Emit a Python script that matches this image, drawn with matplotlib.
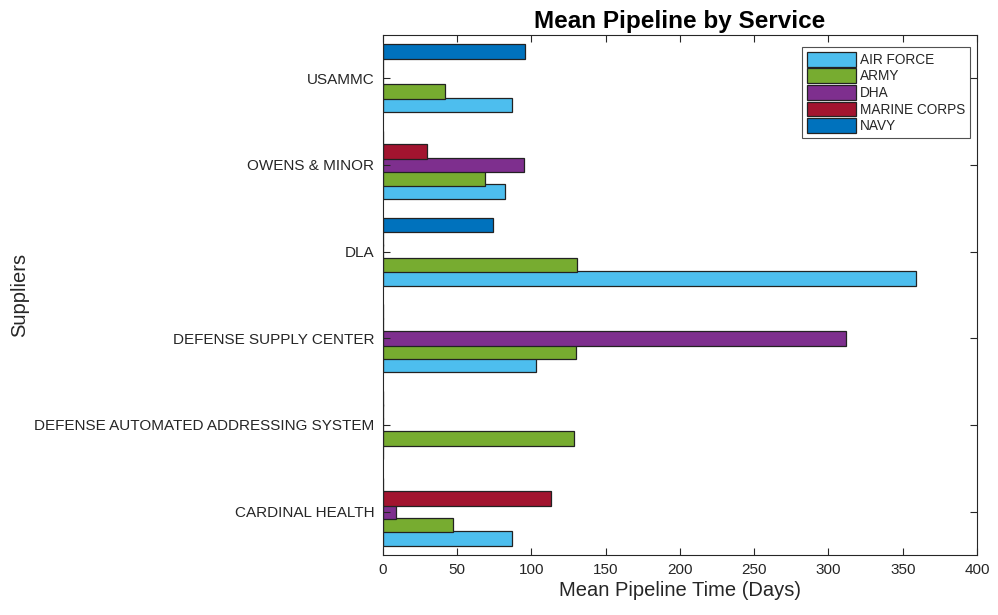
import matplotlib
matplotlib.use("Agg")
import matplotlib.pyplot as plt
import numpy as np

plt.rcParams['font.family'] = ['Liberation Sans', 'DejaVu Sans']

suppliers = ["CARDINAL HEALTH", "DEFENSE AUTOMATED ADDRESSING SYSTEM",
             "DEFENSE SUPPLY CENTER", "DLA", "OWENS & MINOR", "USAMMC"]
services = ["AIR FORCE", "ARMY", "DHA", "MARINE CORPS", "NAVY"]

air_force = [87, 0, 103, 359, 82, 87]
army = [47, 129, 130, 131, 69, 42]
dha = [9, 0, 312, 0, 95, 0]
marine_corps = [113, 0, 0, 0, 30, 0]
navy = [0, 0, 0, 74, 0, 96]

series = [air_force, army, dha, marine_corps, navy]
colors = ["#4DBEEE", "#77AC30", "#7E2F8E", "#A2142F", "#0072BD"]

fig = plt.figure(figsize=(9.98, 6.15), dpi=100)
ax = fig.add_axes([0.3835, 0.0976, 0.5955, 0.8455])

y = np.arange(1, len(suppliers) + 1)
n = len(series)
groupw = n / (n + 1.5)
slot = groupw / n
for i, (vals, c, lab) in enumerate(zip(series, colors, services)):
    off = (i - (n - 1) / 2) * slot
    ax.barh(y + off, vals, height=slot * 1.12, color=c, edgecolor="#222222",
            linewidth=0.9, label=lab)

dark = "#262626"
ax.set_xlim(0, 400)
ax.set_ylim(0.5, len(suppliers) + 0.5)
ax.set_xticks(np.arange(0, 401, 50))
ax.set_yticks(y)
ax.set_yticklabels(suppliers)
ax.tick_params(axis="both", direction="in", top=True, right=True,
               length=5, width=0.8, colors=dark, labelsize=11, pad=6)
for s in ax.spines.values():
    s.set_color(dark)
    s.set_linewidth(0.8)

ax.set_xlabel("Mean Pipeline Time (Days)", fontsize=14.5, color=dark, labelpad=3)
ax.set_ylabel("Suppliers", fontsize=14.5, color=dark)
ax.yaxis.set_label_coords(-0.595, 0.5)
ax.set_title("Mean Pipeline by Service", fontsize=17.5, fontweight="bold",
             color="black", pad=5)

leg = ax.legend(loc="upper right", fontsize=9.8, frameon=True, fancybox=False,
                edgecolor=dark, handlelength=3.6, handleheight=1.3,
                labelspacing=0.12, handletextpad=0.3, borderpad=0.35,
                bbox_to_anchor=(0.9995, 0.99))
leg.get_frame().set_linewidth(0.8)
for t in leg.get_texts():
    t.set_color(dark)

fig.savefig("out.png", dpi=100)
